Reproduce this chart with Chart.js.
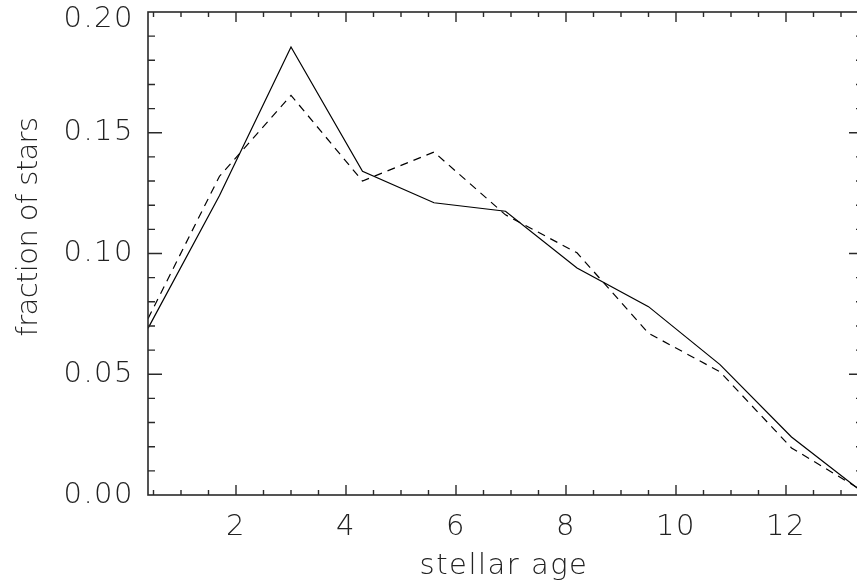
<!DOCTYPE html>
<html>
<head>
<meta charset="utf-8">
<script src="https://cdn.jsdelivr.net/npm/chart.js@4/dist/chart.umd.min.js"></script>
<style>
  html, body { margin: 0; padding: 0; background: #fff; overflow: hidden; }
  canvas { display: block; }
</style>
</head>
<body>
<canvas id="ageChart" width="864" height="588"></canvas>
<script>
// age bins (Gyr) and fraction of stars per bin
const ages = [0.4, 1.7, 3.0, 4.3, 5.6, 6.9, 8.2, 9.5, 10.8, 12.1, 13.4];
const solidFraction = [0.069, 0.124, 0.1855, 0.134, 0.121, 0.1175, 0.094, 0.078, 0.054, 0.024, 0.001];
const dashedFraction = [0.073, 0.132, 0.1655, 0.130, 0.142, 0.116, 0.1003, 0.067, 0.051, 0.0195, 0.0016];

const xTickValues = [2, 4, 6, 8, 10, 12];
const yTickValues = [0.00, 0.05, 0.10, 0.15, 0.20];
const xTitle = 'stellar age';
const yTitle = 'fraction of stars';

const labelFont = { family: 'DejaVu Sans', size: 29, weight: '200' };
// top label sits a little below its tick so it stays inside the canvas
const topLabelFont = { ...labelFont, lineHeight: 14 / 29 };
const inkColor = '#222';

// canvas resets its state on resize, so spacing is set before each layout/draw
const spacingPlugin = {
    id: 'spacing',
    beforeLayout(chart) { chart.ctx.letterSpacing = '1.5px'; },
    beforeDraw(chart) { chart.ctx.letterSpacing = '1.5px'; }
};

// IDL style frame: box on all four sides, ticks pointing inwards
const framePlugin = {
    id: 'frame',
    afterDatasetsDraw(chart) {
        const { ctx, chartArea: a, scales: { x, y } } = chart;
        ctx.save();
        ctx.strokeStyle = '#2a2a2a';
        ctx.lineWidth = 1.6;
        ctx.strokeRect(a.left, a.top, a.right - a.left, a.bottom - a.top);

        ctx.lineWidth = 1.4;
        ctx.beginPath();
        // x ticks: major every 2, minor every 0.5
        for (let v = 0.5; v < x.max; v += 0.5) {
            const px = x.getPixelForValue(v);
            const len = xTickValues.includes(v) ? 10 : 5;
            ctx.moveTo(px, a.bottom); ctx.lineTo(px, a.bottom - len);
            ctx.moveTo(px, a.top); ctx.lineTo(px, a.top + len);
        }
        // y ticks: major every 0.05, minor every 0.01
        for (let i = 1; i < 20; i++) {
            const py = y.getPixelForValue(i / 100);
            const len = i % 5 === 0 ? 14 : 7;
            ctx.moveTo(a.left, py); ctx.lineTo(a.left + len, py);
            ctx.moveTo(a.right, py); ctx.lineTo(a.right - len, py);
        }
        ctx.stroke();

        // axis titles
        ctx.fillStyle = inkColor;
        ctx.font = `${labelFont.weight} ${labelFont.size}px "${labelFont.family}"`;
        ctx.textAlign = 'center';
        ctx.textBaseline = 'middle';
        ctx.letterSpacing = '1.5px';
        ctx.fillText(xTitle, 504, 566);
        ctx.letterSpacing = '-0.6px';
        ctx.translate(29, 227);
        ctx.rotate(-Math.PI / 2);
        ctx.fillText(yTitle, 0, 0);
        ctx.restore();
    }
};

const toPoints = (vals) => ages.map((a, i) => ({ x: a, y: vals[i] }));

new Chart(document.getElementById('ageChart'), {
    type: 'line',
    data: {
        datasets: [
            {
                data: toPoints(solidFraction),
                borderColor: '#000',
                borderWidth: 1.2,
                pointRadius: 0,
                tension: 0,
                fill: false
            },
            {
                data: toPoints(dashedFraction),
                borderColor: '#000',
                borderWidth: 1.2,
                borderDash: [8, 6],
                pointRadius: 0,
                tension: 0,
                fill: false
            }
        ]
    },
    options: {
        responsive: false,
        animation: false,
        devicePixelRatio: 1,
        layout: { padding: { top: 12, right: 1, bottom: 0, left: 0 } },
        plugins: { legend: { display: false }, tooltip: { enabled: false } },
        scales: {
            x: {
                type: 'linear',
                min: 0.4,
                max: 13.4,
                grid: { display: false, drawTicks: false },
                border: { display: false },
                afterBuildTicks: (s) => { s.ticks = xTickValues.map(v => ({ value: v })); },
                afterFit: (s) => { s.height = 93; s.paddingLeft = 0; s.paddingRight = 0; },
                ticks: {
                    font: labelFont,
                    color: inkColor,
                    padding: 15,
                    maxRotation: 0,
                    autoSkip: false,
                    callback: (v) => String(v)
                }
            },
            y: {
                type: 'linear',
                min: 0,
                max: 0.2,
                grid: { display: false, drawTicks: false },
                border: { display: false },
                afterBuildTicks: (s) => { s.ticks = yTickValues.map(v => ({ value: v })); },
                afterFit: (s) => { s.width = 148; s.paddingTop = 0; s.paddingBottom = 0; },
                ticks: {
                    font: (c) => (c.tick && c.tick.value === 0.2 ? topLabelFont : labelFont),
                    color: inkColor,
                    padding: 14,
                    autoSkip: false,
                    callback: (v) => (v === 0.2 ? ['', v.toFixed(2)] : v.toFixed(2))
                }
            }
        }
    },
    plugins: [spacingPlugin, framePlugin]
});
</script>
</body>
</html>
